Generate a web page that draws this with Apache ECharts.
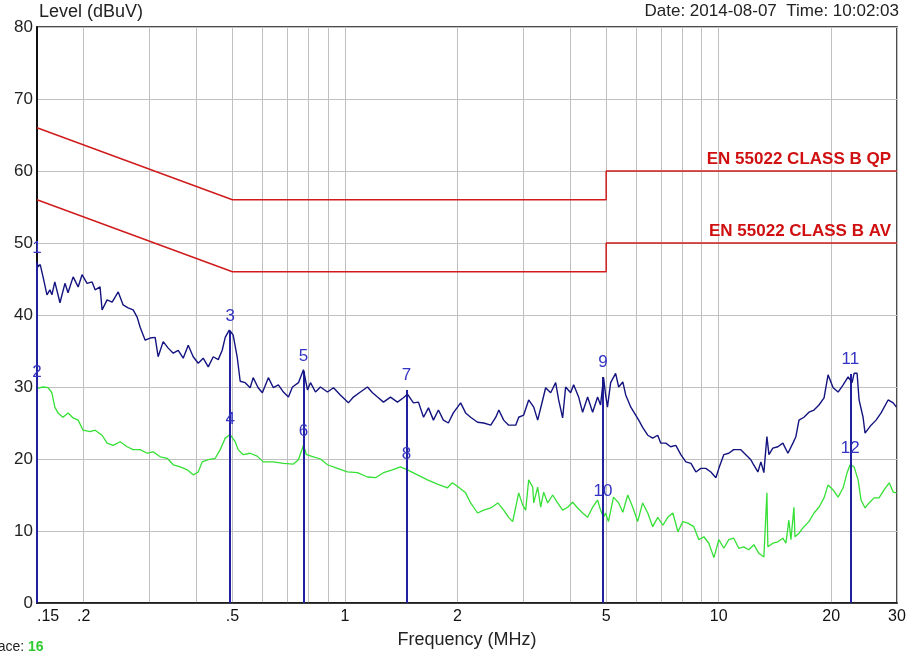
<!DOCTYPE html>
<html><head><meta charset="utf-8">
<script src="https://cdn.jsdelivr.net/npm/echarts@6/dist/echarts.min.js"></script>
<style>html,body{margin:0;padding:0;background:#fff}#c{width:917px;height:654px}</style>
</head><body><div id="c"></div>
<script>
// ---- Data ----
const yTicks = [0, 10, 20, 30, 40, 50, 60, 70, 80];
const xTickLabels = [0.15, 0.2, 0.5, 1, 2, 5, 10, 20, 30];
const xGridValues = [0.2,0.3,0.4,0.5,0.6,0.7,0.8,0.9,1,2,3,4,5,6,7,8,9,10,20,30];

const qpLimitFreq = [0.15, 0.5, 5, 5, 30];
const qpLimitLevel = [66, 56, 56, 60, 60];
const avLimitFreq = [0.15, 0.5, 5, 5, 30];
const avLimitLevel = [56, 46, 46, 50, 50];

const peakFreq = [0.150,0.151,0.153,0.1557,0.1595,0.1624,0.1644,0.1674,0.1728,0.1782,0.1816,0.1874,0.1933,0.1980,0.2042,0.2106,0.2146,0.2212,0.2240,0.2310,0.2383,0.2474,0.2550,0.2629,0.2712,0.2780,0.2832,0.2921,0.3012,0.3106,0.3164,0.3264,0.3367,0.3472,0.3581,0.3692,0.3808,0.3927,0.4050,0.4177,0.4308,0.4443,0.4582,0.4695,0.4783,0.4902,0.496,0.5023,0.5148,0.5245,0.5409,0.5578,0.5682,0.5859,0.6013,0.6240,0.6434,0.6636,0.6846,0.7061,0.7237,0.7510,0.7745,0.7939,0.8087,0.8340,0.860,0.8983,0.9319,0.972,1.0215,1.0535,1.10,1.149,1.185,1.222,1.268,1.324,1.382,1.434,1.470,1.525,1.573,1.623,1.673,1.725,1.779,1.834,1.891,1.950,2.04,2.103,2.169,2.265,2.351,2.456,2.533,2.581,2.659,2.742,2.864,2.917,3.008,3.102,3.200,3.279,3.381,3.444,3.552,3.663,3.731,3.824,3.895,4.017,4.092,4.220,4.325,4.460,4.600,4.743,4.83,4.92,4.98,5.04,5.14,5.30,5.40,5.54,5.64,5.82,5.93,6.11,6.26,6.46,6.66,6.87,7.00,7.22,7.44,7.68,7.92,8.17,8.43,8.69,8.96,9.24,9.53,9.83,10.01,10.32,10.64,10.97,11.46,11.82,12.19,12.34,12.73,12.97,13.21,13.46,13.63,13.96,14.40,14.85,15.32,15.80,16.09,16.40,16.91,17.44,17.99,18.55,19.14,19.62,20.24,20.87,21.53,22.20,22.75,23.03,23.46,23.75,24.34,24.64,25.57,26.37,27.2,28.4,29.3,29.9];
const peakLevel = [47.4,46.7,47.0,45.3,42.8,43.5,42.8,44.6,41.7,44.4,43.1,45.3,43.9,45.6,44.4,44.6,43.5,43.9,40.7,42.1,41.8,43.2,41.4,41.0,40.7,39.7,38.3,36.5,36.8,36.9,34.2,36.3,35.4,34.7,35.1,34.0,35.8,34.2,33.3,34.0,32.8,34.2,33.8,35.1,36.9,37.9,37.6,37.2,34.2,30.8,30.6,29.9,31.3,29.9,29.2,31.3,29.9,30.3,29.3,28.6,30.0,30.6,32.4,29.6,30.6,29.3,30.0,29.3,29.9,28.9,27.8,28.6,29.3,30.0,29.2,28.6,27.9,28.6,27.9,28.5,29.0,27.8,27.9,25.8,27.1,25.4,26.8,25.4,25.0,26.4,27.8,26.4,25.8,25.1,25.0,24.7,25.8,26.8,25.4,24.7,24.7,25.8,26.1,28.2,27.2,25.4,28.2,29.9,29.2,30.6,28.2,25.7,30.0,29.2,30.3,28.6,26.5,28.6,26.5,28.6,27.5,31.3,29.0,27.2,30.6,31.9,30.0,30.7,28.9,27.2,26.5,25.4,24.4,23.3,22.9,23.3,22.2,22.2,21.7,21.9,20.6,19.6,19.4,18.2,18.7,18.7,18.2,17.4,18.7,20.6,20.8,21.3,21.3,20.6,19.9,19.4,18.2,19.6,18.1,23.1,20.6,21.5,21.7,22.2,20.8,22.2,23.1,25.4,25.8,26.5,26.8,27.5,28.5,31.7,29.9,29.3,30.3,31.4,30.6,31.9,31.9,28.2,25.8,23.6,24.7,25.4,26.4,28.2,27.8,27.2];

const avgFreq = [0.150,0.151,0.1557,0.1605,0.1644,0.1674,0.1707,0.1760,0.1816,0.1874,0.1933,0.1992,0.2080,0.2146,0.2240,0.2310,0.2398,0.2503,0.2613,0.2712,0.2832,0.2957,0.3068,0.3204,0.3346,0.3472,0.3625,0.3785,0.3927,0.4050,0.4151,0.4308,0.4498,0.4637,0.4783,0.493,0.5085,0.5180,0.5343,0.5578,0.5823,0.6050,0.6434,0.6846,0.7282,0.7510,0.7745,0.7890,0.8238,0.860,0.8983,0.9551,1.0152,1.0800,1.149,1.207,1.268,1.340,1.408,1.470,1.563,1.663,1.768,1.880,1.938,2.011,2.103,2.169,2.265,2.351,2.456,2.565,2.659,2.742,2.810,2.864,2.917,2.990,3.045,3.102,3.180,3.200,3.279,3.34,3.402,3.487,3.596,3.708,3.824,3.943,4.067,4.194,4.325,4.460,4.600,4.743,4.83,4.92,4.98,5.07,5.23,5.40,5.54,5.71,5.89,6.07,6.26,6.46,6.66,6.87,7.09,7.31,7.54,7.78,8.02,8.27,8.58,8.85,9.13,9.41,9.71,10.01,10.32,10.64,10.97,11.32,11.67,12.04,12.42,12.81,12.97,13.21,13.46,13.54,13.96,14.40,14.85,15.13,15.41,15.61,15.90,16.00,16.40,16.91,17.44,17.99,18.55,19.14,19.62,20.24,20.87,21.53,22.06,22.47,23.03,23.61,24.04,24.64,25.26,26.05,26.86,27.7,28.6,29.3,29.9];
const avgLevel = [29.8,29.6,30.0,29.9,29.2,27.2,26.4,25.8,26.4,25.7,25.4,24.0,23.8,24.0,23.3,22.2,21.9,22.4,21.7,21.3,21.3,20.8,21.0,20.3,20.1,19.2,18.9,18.5,17.8,18.2,19.6,19.9,20.1,21.3,22.9,23.4,22.4,21.3,20.6,20.8,20.4,19.6,19.6,19.4,19.3,19.9,21.9,20.6,20.3,20.0,19.2,18.7,18.2,18.1,17.5,17.4,18.1,18.5,18.9,18.5,17.8,17.1,16.5,16.0,16.7,16.1,15.3,13.9,12.5,12.9,13.2,13.9,12.9,11.9,11.3,13.3,15.3,13.6,12.9,17.1,16.1,13.9,16.1,13.3,15.4,13.9,15.0,13.9,12.9,13.3,14.0,13.2,12.5,11.9,13.3,14.3,12.9,11.9,12.5,11.3,14.7,13.9,12.6,15.0,13.3,11.3,13.9,12.5,10.6,11.9,10.8,11.9,12.5,9.9,11.3,11.1,10.6,8.8,9.2,8.3,6.3,8.8,7.6,8.8,9.0,7.6,7.8,7.4,8.1,6.9,6.7,6.4,15.3,7.8,8.3,8.5,9.0,8.3,11.5,8.8,13.3,9.2,9.7,10.6,11.3,12.5,13.3,14.6,16.4,15.7,14.7,16.0,18.1,19.2,18.9,17.1,14.3,13.2,13.9,14.6,14.6,15.7,16.7,15.4,15.3];

const markerNames = ['1','2','3','4','5','6','7','8','9','10','11','12'];
const markerFreq  = [0.15,0.15,0.493,0.493,0.775,0.775,1.46,1.46,4.9,4.9,22.5,22.5];
const markerLevel = [47.2,30.0,37.8,23.4,32.2,21.8,29.6,18.6,31.4,13.4,31.8,19.4];

const limitNames = ['EN 55022 CLASS B QP', 'EN 55022 CLASS B AV'];
const limitLabelFreq = [30, 30];
const limitLabelLevel = [60, 50];
const yName = 'Level (dBuV)';
const xName = 'Frequency (MHz)';
const dateText = 'Date: 2014-08-07  Time: 10:02:03';

// ---- Build ----
const pair = (xs, ys) => xs.map((x, i) => [x, ys[i]]);
const FONT = 'Liberation Sans, Arial, sans-serif';
const RED = '#d01c1c';

// vertical marker lines: from 0 to the higher value at each marker frequency
const lineData = [];
for (let i = 0; i < markerFreq.length; i += 2) {
  const top = Math.max(markerLevel[i], markerLevel[i + 1]);
  lineData.push([{ coord: [markerFreq[i], 0] }, { coord: [markerFreq[i], top] }]);
}

const chart = echarts.init(document.getElementById('c'), null, { renderer: 'canvas' });
chart.setOption({
  animation: false,
  backgroundColor: '#ffffff',
  textStyle: { fontFamily: FONT },
  grid: { left: 37, right: 20, top: 27, bottom: 51, show: true, borderColor: '#111', borderWidth: 1.5,
    containLabel: false, outerBoundsMode: 'none' },
  xAxis: {
    type: 'log', logBase: 10, min: 0.15, max: 30,
    name: xName, nameLocation: 'middle', nameGap: 28,
    nameTextStyle: { fontSize: 18, color: '#222', fontFamily: FONT },
    axisLine: { show: true, lineStyle: { color: '#111', width: 1.5 } },
    axisTick: { show: false, customValues: xGridValues },
    splitLine: { show: true, customValues: xGridValues, lineStyle: { color: '#c0c0c0', width: 1 } },
    axisLabel: {
      customValues: xTickLabels, margin: 6, fontSize: 16, color: '#111', fontFamily: FONT,
      formatter: v => (v < 1 ? String(+v.toFixed(2)).replace(/^0/, '') : String(Math.round(v))),
      alignMinLabel: 'left'
    }
  },
  yAxis: {
    type: 'value', min: 0, max: 80, interval: 10,
    axisLine: { show: true, lineStyle: { color: '#111', width: 2 } },
    axisTick: { show: false },
    splitLine: { show: true, lineStyle: { color: '#c0c0c0', width: 1 } },
    axisLabel: { margin: 4, fontSize: 17, color: '#222', fontFamily: FONT, customValues: yTicks }
  },
  graphic: [
    { type: 'text', left: 39, top: 3, style: { text: yName, fontSize: 18, fill: '#222', fontFamily: FONT } },
    { type: 'text', right: 18, top: 3, style: { text: dateText, fontSize: 17, fill: '#222', fontFamily: FONT } },
    { type: 'text', left: -15, top: 640, style: { rich: { a: { fontSize: 14, fill: '#222' }, b: { fontSize: 14, fill: '#2ecc2e', fontWeight: 'bold' } }, text: '{a|Trace: }{b|16}', fontFamily: FONT } }
  ],
  series: [
    { name: 'QP limit', type: 'line', data: pair(qpLimitFreq, qpLimitLevel), symbol: 'none',
      lineStyle: { color: RED, width: 1.5 }, z: 3 },
    { name: 'AV limit', type: 'line', data: pair(avLimitFreq, avLimitLevel), symbol: 'none',
      lineStyle: { color: RED, width: 1.5 }, z: 3 },
    { name: 'Limit labels', type: 'scatter', symbolSize: 1, itemStyle: { color: 'rgba(0,0,0,0)', opacity: 1 }, z: 6,
      data: limitNames.map((n, i) => ({ value: [limitLabelFreq[i], limitLabelLevel[i]], name: n })),
      label: { show: true, position: 'top', align: 'right', distance: 3, offset: [-6, 0],
        formatter: p => p.name, color: '#d01010', textBorderWidth: 0, fontSize: 17, fontWeight: 'bold', fontFamily: FONT } },
    { name: 'Average', type: 'line', data: pair(avgFreq, avgLevel), symbol: 'none',
      lineStyle: { color: '#35e035', width: 1.3 }, z: 4 },
    { name: 'Peak', type: 'line', data: pair(peakFreq, peakLevel), symbol: 'none',
      lineStyle: { color: '#141480', width: 1.4 }, z: 5,
      markLine: { silent: true, symbol: 'none', label: { show: false },
        lineStyle: { color: '#2020a0', width: 2, type: 'solid' }, data: lineData } },
    { name: 'Markers', type: 'scatter', symbolSize: 1, itemStyle: { color: 'rgba(0,0,0,0)', opacity: 1 }, z: 6,
      data: markerFreq.map((f, i) => ({ value: [f, markerLevel[i]], name: markerNames[i] })),
      label: { show: true, position: 'top', distance: 6, formatter: p => p.name, textBorderWidth: 0,
        color: '#3434c4', fontSize: 17, fontFamily: FONT } }
  ]
});
</script></body></html>
